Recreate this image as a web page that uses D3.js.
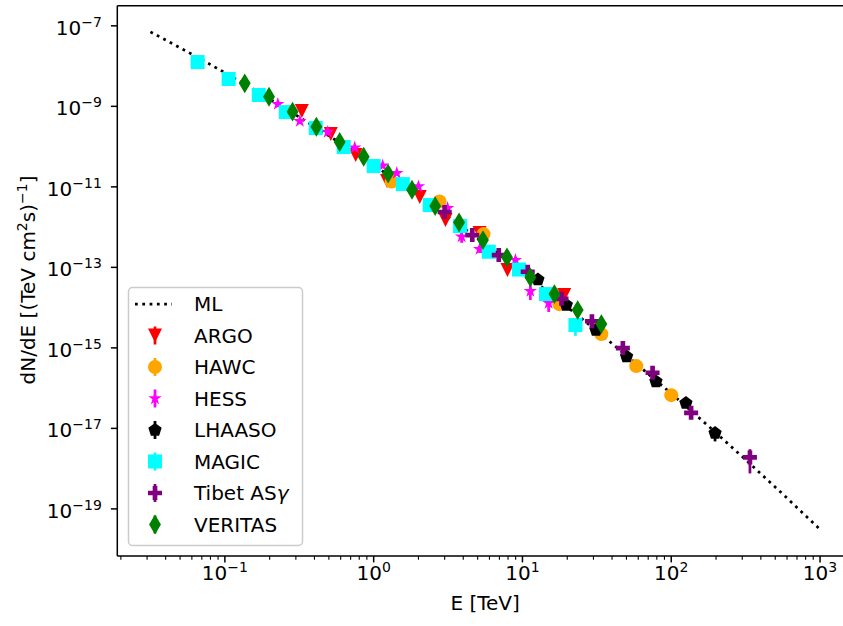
<!DOCTYPE html>
<html><head><meta charset="utf-8">
<script src="https://cdn.jsdelivr.net/npm/d3@7"></script>
<style>
body{margin:0;background:#fff}
svg{display:block}
text{font-family:"DejaVu Sans",sans-serif;fill:#000}
</style>
</head><body>
<svg id="c" width="843" height="626"></svg>
<script>
// ---------- data ----------
const mlE = [0.0316,0.0562,0.1,0.178,0.316,0.562,1,1.78,3.16,5.62,10,17.8,31.6,56.2,100,178,316,562,1000];
const mlF = [7.08e-8,2.26e-8,6.87e-9,1.98e-9,5.41e-10,1.41e-10,3.47e-11,8.13e-12,1.80e-12,3.81e-13,7.64e-14,1.46e-14,2.63e-15,4.51e-16,7.35e-17,1.14e-17,1.67e-18,2.33e-19,3.09e-20];

const argoE = [0.329,0.515,0.757,1.23,2.04,3.04,5.15,7.93,19.1];
const argoF = [7.64e-10,2.05e-10,6.17e-11,1.39e-11,5.58e-12,1.50e-12,7.12e-13,8.57e-14,2.05e-14];
const argoErr = [0.1,0.1,0.1,0.1,0.1,0.1,0.1,0.12,0.15];

const hawcE = [1.32,2.77,5.47,17.7,33.9,58.2,100];
const hawcF = [1.35e-11,4.31e-12,6.7e-13,1.22e-14,2.2e-15,3.53e-16,6.7e-17];
const hawcErr = [0.1,0.1,0.1,0.1,0.12,0.2,0.3];

const hessE = [0.227,0.319,0.491,0.746,1.15,1.43,2.00,3.14,3.90,5.15,8.97,11.3,15.0];
const hessF = [1.14e-9,4.31e-10,2.30e-10,9.46e-11,3.38e-11,2.20e-11,1.02e-11,2.97e-12,5.82e-13,2.85e-13,1.52e-13,2.58e-14,1.3e-14];
const hessErr = [0.15,0.1,0.1,0.1,0.1,0.1,0.1,0.1,0.3,0.2,0.2,0.4,0.4];

const lhaasoE = [12.7,19.7,31.2,50.1,78.9,125.5,197];
const lhaasoF = [4.98e-14,1.16e-14,2.77e-15,6.08e-16,1.46e-16,4.26e-17,7.66e-18];
const lhaasoErr = [0.08,0.08,0.08,0.1,0.1,0.15,0.38];

const magicE = [0.0656,0.106,0.169,0.257,0.408,0.629,1.0,1.57,2.38,3.81,5.94,9.47,14.4,22.7];
const magicF = [1.26e-8,4.77e-9,1.91e-9,7.2e-10,2.89e-10,9.75e-11,3.29e-11,1.17e-11,3.53e-12,1.06e-12,2.44e-13,8.83e-14,2.17e-14,3.69e-15];
const magicErr = [0.1,0.1,0.1,0.1,0.1,0.1,0.1,0.1,0.1,0.1,0.1,0.15,0.2,0.46];

const tibetE = [3.0,4.6,6.93,10.85,18.3,29.3,47.3,74.9,136,338];
const tibetF = [2.37e-12,6.34e-13,2.02e-13,7.78e-14,1.65e-14,4.58e-15,9.89e-16,2.41e-16,2.44e-17,1.90e-18];
const tibetErr = [0.1,0.1,0.1,0.1,0.1,0.1,0.12,0.15,0.25,0.6];

const veritasE = [0.136,0.198,0.285,0.412,0.591,0.857,1.25,1.81,2.59,3.75,5.43,7.87,11.3,16.4,23.5,33.9];
const veritasF = [3.73e-9,1.73e-9,7.35e-10,3.11e-10,1.30e-10,5.6e-11,2.14e-11,8.47e-12,3.33e-12,1.30e-12,4.77e-13,1.78e-13,5.65e-14,2.17e-14,8.7e-15,3.9e-15];
const veritasErr = [0.1,0.1,0.1,0.1,0.1,0.1,0.1,0.1,0.1,0.1,0.1,0.1,0.12,0.15,0.2,0.2];

const seriesNames = ["ARGO","HAWC","HESS","LHAASO","MAGIC","Tibet AS","VERITAS"];
const seriesColors = ["#ff0000","#ffa500","#ff00ff","#000000","#00ffff","#800080","#008000"];
const seriesMarkers = ["triDown","circle","star","pentagon","square","plus","thinDiamond"];

const xTickValues = [0.1,1,10,100,1000];
const xTickExps = ["−1","0","1","2","3"];
const yTickValues = [1e-19,1e-17,1e-15,1e-13,1e-11,1e-9,1e-7];
const yTickExps = ["−19","−17","−15","−13","−11","−9","−7"];

// ---------- layout ----------
const svg = d3.select("#c");
const L = 117.3, R = 853, T = 5.7, B = 556;
const FS = 20, SFS = 14, SUP = 8;
const x = d3.scaleLog().domain([Math.pow(10,-1.723), Math.pow(10,3.2215)]).range([L, R]);
const y = d3.scaleLog().domain([Math.pow(10,-20.17), Math.pow(10,-6.50)]).range([B, T]);

const MS = 14;
const symbolTypes = {
  triDown: {draw(c,s){const h=s/2; c.moveTo(0,h); c.lineTo(-h,-h); c.lineTo(h,-h); c.closePath();}},
  circle: {draw(c,s){const r=s/2; c.moveTo(r,0); c.arc(0,0,r,0,2*Math.PI); c.closePath();}},
  star: {draw(c,s){const Ro=s/2, Ri=Ro*0.381966; for(let i=0;i<10;i++){const a=-Math.PI/2+i*Math.PI/5; const rr=i%2?Ri:Ro; const px=rr*Math.cos(a), py=rr*Math.sin(a); if(i===0)c.moveTo(px,py); else c.lineTo(px,py);} c.closePath();}},
  pentagon: {draw(c,s){const Ro=s/2; for(let i=0;i<5;i++){const a=-Math.PI/2+i*2*Math.PI/5; const px=Ro*Math.cos(a), py=Ro*Math.sin(a); if(i===0)c.moveTo(px,py); else c.lineTo(px,py);} c.closePath();}},
  square: {draw(c,s){const h=s/2; c.moveTo(-h,-h); c.lineTo(h,-h); c.lineTo(h,h); c.lineTo(-h,h); c.closePath();}},
  plus: {draw(c,s){const e=s/2, w=s/6; const pts=[[-w,-e],[w,-e],[w,-w],[e,-w],[e,w],[w,w],[w,e],[-w,e],[-w,w],[-e,w],[-e,-w],[-w,-w]]; pts.forEach((p,i)=>i?c.lineTo(p[0],p[1]):c.moveTo(p[0],p[1])); c.closePath();}},
  thinDiamond: {draw(c,s){const hh=s*0.7071, hw=0.6*s*0.7071; c.moveTo(0,-hh); c.lineTo(hw,0); c.lineTo(0,hh); c.lineTo(-hw,0); c.closePath();}}
};
const sym = m => d3.symbol().type(symbolTypes[m]).size(MS);

const allE = [argoE,hawcE,hessE,lhaasoE,magicE,tibetE,veritasE];
const allF = [argoF,hawcF,hessF,lhaasoF,magicF,tibetF,veritasF];
const allErr = [argoErr,hawcErr,hessErr,lhaasoErr,magicErr,tibetErr,veritasErr];

// ---------- ML line ----------
const mlData = mlE.map((e,i)=>({e, f: mlF[i]}));
svg.append("path").datum(mlData)
  .attr("d", d3.line().x(d=>x(d.e)).y(d=>y(d.f)))
  .attr("fill","none").attr("stroke","#000").attr("stroke-width",2.75)
  .attr("stroke-dasharray","2.75,4.55");

// ---------- series ----------
seriesNames.forEach((name, si) => {
  const data = allE[si].map((e,i)=>({e, f: allF[si][i], r: allErr[si][i]}));
  const g = svg.append("g");
  const col = seriesColors[si];
  data.forEach(d => {
    g.append("line").attr("x1",x(d.e)).attr("x2",x(d.e))
      .attr("y1",y(d.f*(1-d.r))).attr("y2",y(d.f*(1+d.r)))
      .attr("stroke",col).attr("stroke-width",2.75);
    g.append("path").attr("d", sym(seriesMarkers[si])())
      .attr("transform",`translate(${x(d.e)},${y(d.f)})`)
      .attr("fill",col);
  });
});

// ---------- axes frame ----------
svg.append("line").attr("x1",L).attr("x2",L).attr("y1",T).attr("y2",B).attr("stroke","#000").attr("stroke-width",1.5);
svg.append("line").attr("x1",L).attr("x2",R).attr("y1",B).attr("y2",B).attr("stroke","#000").attr("stroke-width",1.5);
svg.append("line").attr("x1",L).attr("x2",R).attr("y1",T).attr("y2",T).attr("stroke","#000").attr("stroke-width",1.5);
svg.append("line").attr("x1",R).attr("x2",R).attr("y1",T).attr("y2",B).attr("stroke","#000").attr("stroke-width",1.5);

// x ticks
const xMinor = [];
for (let dec=-2; dec<=3; dec++) for (let k=2;k<=9;k++){const v=k*Math.pow(10,dec); if(v>x.domain()[0] && v<x.domain()[1]) xMinor.push(v);}
svg.selectAll(".xminor").data(xMinor).enter().append("line")
  .attr("x1",d=>x(d)).attr("x2",d=>x(d)).attr("y1",B).attr("y2",B+3.7)
  .attr("stroke","#000").attr("stroke-width",1.1);
xTickValues.forEach((v,i)=>{
  svg.append("line").attr("x1",x(v)).attr("x2",x(v)).attr("y1",B).attr("y2",B+6.4).attr("stroke","#000").attr("stroke-width",1.5);
  const t = svg.append("text").attr("x",x(v)).attr("y",B+23.5).attr("text-anchor","middle").attr("font-size",FS);
  t.append("tspan").text("10");
  t.append("tspan").attr("dy",-SUP).attr("font-size",SFS).text(xTickExps[i]);
});
// y ticks
yTickValues.forEach((v,i)=>{
  svg.append("line").attr("x1",L-6.4).attr("x2",L).attr("y1",y(v)).attr("y2",y(v)).attr("stroke","#000").attr("stroke-width",1.5);
  const t = svg.append("text").attr("x",L-15.5).attr("y",y(v)+9).attr("text-anchor","end").attr("font-size",FS);
  t.append("tspan").text("10");
  t.append("tspan").attr("dy",-SUP).attr("font-size",SFS).text(yTickExps[i]);
});

// axis labels
svg.append("text").attr("x",(L+R)/2).attr("y",610).attr("text-anchor","middle").attr("font-size",FS).text("E [TeV]");
const yl = svg.append("text").attr("transform","translate(35,280) rotate(-90)").attr("text-anchor","middle").attr("font-size",FS);
yl.append("tspan").text("dN/dE [(TeV cm");
yl.append("tspan").attr("dy",-SUP).attr("font-size",SFS).text("2");
yl.append("tspan").attr("dy",SUP).text("s)");
yl.append("tspan").attr("dy",-SUP).attr("font-size",SFS).text("−1");
yl.append("tspan").attr("dy",SUP).text("]");

// ---------- legend ----------
const lg = svg.append("g");
lg.append("rect").attr("x",128.5).attr("y",287.5).attr("width",174).attr("height",258).attr("rx",4)
  .attr("fill","#fff").attr("fill-opacity",0.8).attr("stroke","#cccccc").attr("stroke-width",1.5);
const rowY0 = 304, rowDY = 31.5;
lg.append("line").attr("x1",135).attr("x2",172).attr("y1",rowY0).attr("y2",rowY0)
  .attr("stroke","#000").attr("stroke-width",2.75).attr("stroke-dasharray","2.75,4.55");
lg.append("text").attr("x",194).attr("y",rowY0+7).attr("font-size",FS).text("ML");
seriesNames.forEach((name,si)=>{
  const ry = rowY0 + rowDY*(si+1);
  lg.append("line").attr("x1",155).attr("x2",155).attr("y1",ry-9).attr("y2",ry+9).attr("stroke",seriesColors[si]).attr("stroke-width",2.75);
  lg.append("path").attr("d",sym(seriesMarkers[si])()).attr("transform",`translate(155,${ry})`).attr("fill",seriesColors[si]);
  const t = lg.append("text").attr("x",194).attr("y",ry+7).attr("font-size",FS).text(name);
  if (name === "Tibet AS") t.append("tspan").attr("font-style","italic").text("γ");
});
</script>
</body></html>
